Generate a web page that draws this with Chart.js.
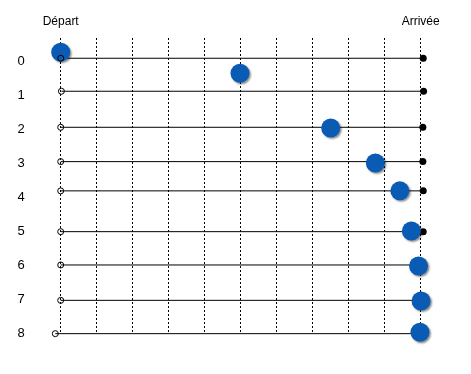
<!DOCTYPE html>
<html>
<head>
<meta charset="utf-8">
<script src="https://cdn.jsdelivr.net/npm/chart.js@4/dist/chart.umd.min.js"></script>
<style>
  body { margin: 0; background: #fff; }
</style>
</head>
<body>
<canvas id="race" width="471" height="374"></canvas>
<script>
// rows
const rowLabels = ['0', '1', '2', '3', '4', '5', '6', '7', '8']
const lineY = [-0.08, 0.89, 1.95, 2.96, 3.82, 5.02, 6.0, 7.04, 8.02]
const startX = [0, 0.02, 0, 0, 0, 0, 0, 0, -0.15]
const endX = [10.07, 10.08, 10.06, 10.06, 10.07, 10.07, 10.07, 10.07, 10.07]
// blue runners
const runnerX = [0.0, 4.98, 7.5, 8.74, 9.42, 9.74, 9.94, 10.01, 9.98]
const runnerY = [-0.26, 0.36, 1.97, 3.0, 3.82, 5.0, 6.03, 7.06, 7.98]
const gridX = [0, 1, 2, 3, 4, 5, 6, 7, 8, 9, 10]
const topLabels = { 0: 'Départ', 10: 'Arrivée' }

Chart.defaults.font.family = '"Liberation Sans", Arial, sans-serif'
Chart.defaults.color = '#000'

const lineSets = rowLabels.map((r, i) => ({
  type: 'scatter',
  data: [{ x: startX[i], y: lineY[i] }, { x: endX[i], y: lineY[i] }],
  showLine: true,
  borderColor: '#000',
  borderWidth: 1,
  pointRadius: [0, 3.5],
  pointBackgroundColor: '#000',
  pointBorderWidth: 0,
  clip: false,
  order: 3
}))

const runners = {
  type: 'scatter',
  data: runnerX.map((x, i) => ({ x: x, y: runnerY[i] })),
  pointRadius: 9.5,
  pointBackgroundColor: '#0a5bb4',
  pointBorderWidth: 0,
  clip: false,
  order: 2,
  shadow: true
}

const starts = {
  type: 'scatter',
  data: startX.map((x, i) => ({ x: x, y: lineY[i] })),
  pointRadius: 3,
  pointBackgroundColor: 'rgba(0,0,0,0)',
  pointBorderColor: '#000',
  pointBorderWidth: 1,
  clip: false,
  order: 1
}

const shadowPlugin = {
  id: 'shadow',
  beforeDatasetDraw(chart, args) {
    if (!args.meta._dataset.shadow) return
    const ctx = chart.ctx
    ctx.save()
    ctx.shadowColor = 'rgba(0,0,0,0.45)'
    ctx.shadowOffsetX = 1.5
    ctx.shadowOffsetY = 1.5
    ctx.shadowBlur = 2
  },
  afterDatasetDraw(chart, args) {
    if (!args.meta._dataset.shadow) return
    chart.ctx.restore()
  }
}

new Chart(document.getElementById('race'), {
  type: 'scatter',
  data: { datasets: [...lineSets, runners, starts] },
  plugins: [shadowPlugin],
  options: {
    responsive: false,
    animation: false,
    layout: { padding: { left: 17.4, top: 15, right: 50.3, bottom: 40 } },
    plugins: { legend: { display: false }, tooltip: { enabled: false } },
    scales: {
      x: {
        type: 'linear', position: 'bottom', min: -0.2, max: 10,
        afterBuildTicks: s => { s.ticks = gridX.map(v => ({ value: v })) },
        ticks: { display: false },
        grid: { display: true, color: '#000', lineWidth: 1, drawTicks: false },
        border: { display: false, dash: [2, 2] },
        afterFit: s => { s.height = 0 }
      },
      x2: {
        type: 'linear', position: 'top', min: -0.2, max: 10,
        afterBuildTicks: s => { s.ticks = [{ value: 0 }, { value: 10 }] },
        ticks: {
          autoSkip: false, maxRotation: 0, padding: 9,
          font: { size: 12 },
          callback: v => topLabels[v]
        },
        grid: { display: false, drawTicks: false },
        border: { display: false },
        afterFit: s => { s.height = 23 }
      },
      y: {
        type: 'linear', reverse: true, min: -0.676, max: 8.03,
        afterBuildTicks: s => { s.ticks = rowLabels.map((l, i) => ({ value: i })) },
        ticks: {
          padding: 0, crossAlign: 'far', font: { size: 13 },
          callback: v => rowLabels[v]
        },
        grid: { display: false, drawTicks: false },
        border: { display: false },
        afterFit: s => { s.width = 36.1 }
      }
    }
  }
})
</script>
</body>
</html>
